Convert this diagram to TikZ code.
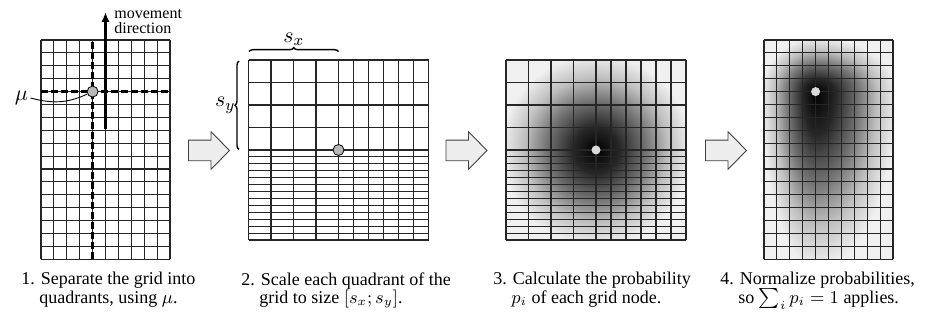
\documentclass[tikz,border=0pt]{standalone}
\usepackage{fontspec}
\setmainfont{Liberation Serif}
\usetikzlibrary{arrows.meta,decorations.pathreplacing}

\pgfdeclareradialshading{gauss}{\pgfpoint{0bp}{0bp}}{%
  color(0bp)=(black); color(6bp)=(black!85); color(13bp)=(black!55);
  color(19bp)=(black!25); color(25bp)=(black!6); color(50bp)=(black!6)}

% blob made of four quarter ellipses: x, y, left, right, top, bottom
\newcommand{\gaussblob}[6]{%
  \begin{scope}\clip (#1-#3,#2) rectangle (#1,#2+#5);
    \shade[shading=gauss] (#1,#2) ellipse ({#3} and {#5});\end{scope}
  \begin{scope}\clip (#1,#2) rectangle (#1+#4,#2+#5);
    \shade[shading=gauss] (#1,#2) ellipse ({#4} and {#5});\end{scope}
  \begin{scope}\clip (#1-#3,#2) rectangle (#1,#2-#6);
    \shade[shading=gauss] (#1,#2) ellipse ({#3} and {#6});\end{scope}
  \begin{scope}\clip (#1,#2) rectangle (#1+#4,#2-#6);
    \shade[shading=gauss] (#1,#2) ellipse ({#4} and {#6});\end{scope}}

\begin{document}
\begin{tikzpicture}[x=0.5pt,y=0.5pt,>={Latex[length=5pt,width=4.2pt]},
  gridline/.style={line width=0.55pt,black!85},
  quadline/.style={line width=1.2pt,dash pattern=on 3.5pt off 1.5pt},
  mupoint/.style={circle,draw,line width=0.4pt,fill=black!28,inner sep=0pt,minimum size=5.5pt},
  mulight/.style={circle,fill=black!15,inner sep=0pt,minimum size=4.5pt},
  blockarrow/.style={draw=black!75,line width=0.45pt,fill=black!7,line join=miter},
  stepcap/.style={anchor=north west,align=left,inner sep=0pt,font=\fontsize{9}{9.2}\selectfont},
  sizebrace/.style={decorate,decoration={brace,amplitude=2pt},line width=0.7pt},
  symlabel/.style={font=\fontsize{11}{13}\selectfont,inner sep=1pt}]
  \useasboundingbox (0,0) rectangle (933,320);

  % shading of panels 3 and 4
  \fill[black!6] (506,80) rectangle (686,260);
  \begin{scope}
    \clip (506,80) rectangle (686,260);
    \gaussblob{596}{170}{95}{95}{95}{95}
  \end{scope}
  \fill[black!6] (764,60.7) rectangle (893,280);
  \begin{scope}
    \clip (764,60.7) rectangle (893,280);
    \gaussblob{815.6}{228.4}{54}{81}{54}{176}
  \end{scope}

  % regular grids (1 and 4)
  \foreach \px in {41,764} {
    \foreach \i in {0,...,10} \draw[gridline] (\px+\i*12.9,60.7) -- ++(0,219.3);
    \foreach \j in {0,...,17} \draw[gridline] (\px,60.7+\j*12.9) -- ++(129,0);
  }
  % scaled grids (2 and 3)
  \foreach \px in {248.5,506} {
    \foreach \i in {0,...,4} \draw[gridline] (\px+\i*22.5,80) -- ++(0,180);
    \foreach \i in {1,...,6} \draw[gridline] (\px+90+\i*15,80) -- ++(0,180);
    \foreach \j in {1,...,4} \draw[gridline] (\px,170+\j*22.5) -- ++(180,0);
    \foreach \j in {0,...,13} \draw[gridline] (\px,80+\j*90/13) -- ++(180,0);
  }

  % quadrants and movement
  \draw[quadline] (41,228.4) -- (170,228.4);
  \draw[quadline] (92.6,60.7) -- (92.6,280);
  \coordinate (mvstart) at (105.5,190.7);
  \coordinate (mvend) at (105.5,308);
  \draw[->,line width=1.3pt] (mvstart) -- (mvend);
  \node[anchor=north west,align=left,inner sep=0pt,font=\fontsize{8}{7.5}\selectfont] (mvlabel) at (114,311) {movement\\direction};

  \node[mupoint] (mu1) at (92.6,228.4) {};
  \node[symlabel] (mulab) at (21.5,222) {$\mu$};
  \draw[line width=0.45pt] (mulab.east) to[out=-15,in=205] (mu1);

  \draw[sizebrace] (249,268.3) -- (338.5,268.3) node[symlabel,midway,above=1.5pt] (sxlab) {$s_x$};
  \draw[sizebrace] (239,170.5) -- (239,259) node[symlabel,midway,left=0.5pt] (sylab) {$s_y$};
  \node[mupoint] (mu2) at (338.5,170) {};
  \node[mulight] (mu3) at (596,170) {};
  \node[mulight] (mu4) at (815.6,228.4) {};

  % arrows between the steps
  \foreach \ax in {188.5,446,705.5}
    \draw[blockarrow] (\ax,159.2) -- (\ax+22.5,159.2) -- (\ax+22.5,150.7) -- (\ax+41,169.5)
      -- (\ax+22.5,188.3) -- (\ax+22.5,179.8) -- (\ax,179.8) -- cycle;

  % captions
  \node[stepcap] (cap1) at (21,48) {1. Separate the grid into\\\phantom{1.} quadrants, using $\mu$.};
  \node[stepcap] (cap2) at (241,48) {2. Scale each quadrant of the\\\phantom{2.} grid to size $[s_x; s_y]$.};
  \node[stepcap] (cap3) at (493,48) {3. Calculate the probability\\\phantom{3.} $p_i$ of each grid node.};
  \node[stepcap] (cap4) at (720,48) {4. Normalize probabilities,\\\phantom{4.} so $\sum_i p_i = 1$ applies.};
\end{tikzpicture}
\end{document}
